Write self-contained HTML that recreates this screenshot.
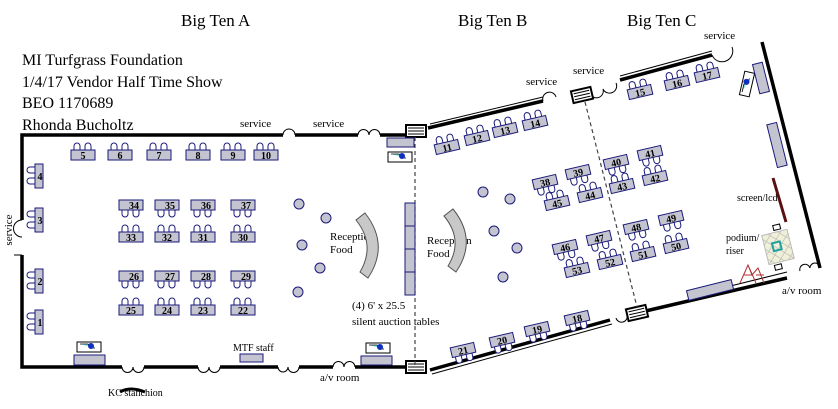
<!DOCTYPE html>
<html><head><meta charset="utf-8"><style>
html,body{margin:0;padding:0;background:#fff;}
svg{display:block;font-family:"Liberation Serif",serif;}
</style></head><body>
<svg width="838" height="409" viewBox="0 0 838 409" xmlns="http://www.w3.org/2000/svg">
<defs>
<g id="tu"><path d="M-9,-4 v-5 a3,3 0 0 1 6,0 v5 M2,-4 v-5 a3,3 0 0 1 6,0 v5" fill="#fff" stroke="#1a1a7a" stroke-width="1"/><rect x="-12" y="-5" width="24" height="10" fill="#c4c4d0" stroke="#1a1a7a" stroke-width="1"/></g>
<g id="td"><path d="M-9,4 v5 a3,3 0 0 0 6,0 v-5 M2,4 v5 a3,3 0 0 0 6,0 v-5" fill="#fff" stroke="#1a1a7a" stroke-width="1"/><rect x="-12" y="-5" width="24" height="10" fill="#c4c4d0" stroke="#1a1a7a" stroke-width="1"/></g>
<g id="tl"><path d="M-4,-9 h-5 a3,3 0 0 0 0,6 h5 M-4,2 h-5 a3,3 0 0 0 0,6 h5" fill="#fff" stroke="#1a1a7a" stroke-width="1"/><rect x="-4" y="-12" width="8" height="24" fill="#c4c4d0" stroke="#1a1a7a" stroke-width="1"/></g>
<g id="av"><rect x="-12" y="-5" width="24" height="10" fill="#fff" stroke="#000"/><path d="M-9,-3 h8 l3,4 h4" fill="#7fe0e0" stroke="#000" stroke-width="0.8"/><circle cx="2" cy="-1" r="3" fill="#1030c0"/></g>
<g id="st"><rect x="-10" y="-6" width="20" height="12" fill="#fff" stroke="#000" stroke-width="2"/><path d="M-8,-3h16M-8,0h16M-8,3h16" stroke="#000"/></g>
</defs>
<g font-size="17">
<text x="181" y="26">Big Ten A</text>
<text x="458" y="26">Big Ten B</text>
<text x="627" y="26">Big Ten C</text>
</g>
<g font-size="16">
<text x="22" y="65">MI Turfgrass Foundation</text>
<text x="22" y="87">1/4/17 Vendor Half Time Show</text>
<text x="22" y="108">BEO 1170689</text>
<text x="22" y="130">Rhonda Bucholtz</text>
</g>
<g font-size="11">
<text x="240" y="127">service</text>
<text x="313" y="127">service</text>
<text x="526" y="85">service</text>
<text x="573" y="74">service</text>
<text x="704" y="39">service</text>
<text x="12" y="230" transform="rotate(-90 12 230)" text-anchor="middle">service</text>
<text x="320" y="381">a/v room</text>
<text x="782" y="294">a/v room</text>
<text x="108" y="396" font-size="10">KC stanchion</text>
<text x="233" y="351" font-size="10">MTF staff</text>
<text x="330" y="240">Reception</text><text x="330" y="253">Food</text>
<text x="427" y="244">Reception</text><text x="427" y="257">Food</text>
<text x="352" y="309">(4) 6' x 25.5</text>
<text x="352" y="325">silent auction tables</text>
<text x="737" y="201" font-size="10">screen/lcd</text>
<text x="726" y="241" font-size="10">podium/</text><text x="726" y="254" font-size="10">riser</text>
</g>
<g stroke="#000" stroke-width="3.5" fill="none">
<path d="M283,135 H22 V220 M22,255 V367 H122 M144,367 H198 M220,367 H278 M299,367 H333 M355,367 H405"/>
<path d="M295,135 H358 M380,135 H405"/>
<path d="M428,128 L543,101 M620,80 L712,55 M762,42 L820,268 M787,278 L637,313 M610,320 L430,370"/>
</g>
<g stroke="#000" stroke-width="1" fill="none">
<path d="M283,135 a6,6 0 0 1 12,0 M358,135 a5,5 0 0 1 11,0 a5,5 0 0 1 11,0 M22,220 a8,8 0 0 0 0,17 M14,255 h8"/>
<path d="M122,367 a5,5 0 0 0 11,0 a5,5 0 0 0 11,0 M198,367 a5,5 0 0 0 11,0 a5,5 0 0 0 11,0 M278,367 a5,5 0 0 0 10,0 a5,5 0 0 0 11,0 M333,367 a5,5 0 0 1 11,0 a5,5 0 0 1 11,0"/>
<path d="M543,101 a6,6 0 0 1 13,-4 M590,93 a6,6 0 0 0 13,-4 a6,6 0 0 0 13,-6 M712,55 a10,10 0 0 0 20,-8 M820,268 a5,5 0 0 0 -10,0 a5,5 0 0 0 -10,3 M637,313 a5,5 0 0 1 -10,2 a5,5 0 0 1 -11,3"/>
<path d="M430,124 L543,97 M620,76 L712,51 M690,296 L787,272 M612,324 L432,374" stroke-width="1"/>
<path d="M120,392 q10,-6 25,0" stroke-width="3"/>
</g>
<use href="#st" x="416" y="131"/><use href="#st" x="416" y="367"/>
<use href="#st" x="582" y="95" transform="rotate(-13 582 95)"/>
<use href="#st" x="637" y="313" transform="rotate(-13 637 313)"/>
<path d="M415,137 V365 M585,102 L637,307" stroke="#444" stroke-width="1.2" stroke-dasharray="4,3" fill="none"/>
<g>
<use href="#tu" x="83" y="155"/><use href="#tu" x="120" y="155"/><use href="#tu" x="159" y="155"/><use href="#tu" x="198" y="155"/><use href="#tu" x="233" y="155"/><use href="#tu" x="266" y="155"/>
<use href="#tl" x="39" y="176"/><use href="#tl" x="39" y="220"/><use href="#tl" x="39" y="281"/><use href="#tl" x="39" y="322"/>
<use href="#td" x="131" y="205"/><use href="#td" x="167" y="205"/><use href="#td" x="203" y="205"/><use href="#td" x="243" y="205"/>
<use href="#tu" x="131" y="237"/><use href="#tu" x="167" y="237"/><use href="#tu" x="203" y="237"/><use href="#tu" x="243" y="237"/>
<use href="#td" x="131" y="276"/><use href="#td" x="167" y="276"/><use href="#td" x="203" y="276"/><use href="#td" x="243" y="276"/>
<use href="#tu" x="131" y="310"/><use href="#tu" x="167" y="310"/><use href="#tu" x="203" y="310"/><use href="#tu" x="243" y="310"/>
</g>
<g font-size="10" font-weight="bold" text-anchor="middle">
<text x="83" y="159">5</text><text x="120" y="159">6</text><text x="159" y="159">7</text><text x="198" y="159">8</text><text x="233" y="159">9</text><text x="266" y="159">10</text>
<text x="40" y="180">4</text><text x="40" y="224">3</text><text x="40" y="285">2</text><text x="40" y="326">1</text>
<text x="134" y="209">34</text><text x="170" y="209">35</text><text x="206" y="209">36</text><text x="246" y="209">37</text>
<text x="131" y="241">33</text><text x="167" y="241">32</text><text x="203" y="241">31</text><text x="243" y="241">30</text>
<text x="134" y="280">26</text><text x="170" y="280">27</text><text x="206" y="280">28</text><text x="246" y="280">29</text>
<text x="131" y="314">25</text><text x="167" y="314">24</text><text x="203" y="314">23</text><text x="243" y="314">22</text>
</g>
<g fill="#c4c4d0" stroke="#1a1a7a">
<circle cx="299" cy="204" r="5"/><circle cx="326" cy="218" r="5"/><circle cx="302" cy="245" r="5"/><circle cx="320" cy="268" r="5"/><circle cx="298" cy="292" r="5"/>
<circle cx="483" cy="192" r="5"/><circle cx="510" cy="199" r="5"/><circle cx="494" cy="231" r="5"/><circle cx="517" cy="248" r="5"/><circle cx="503" cy="277" r="5"/>
<rect x="405" y="203" width="10" height="23"/><rect x="405" y="226" width="10" height="23"/><rect x="405" y="249" width="10" height="23"/><rect x="405" y="272" width="10" height="23"/>
<rect x="74" y="355" width="31" height="10"/><rect x="240" y="354" width="23" height="8"/><rect x="361" y="356" width="31" height="9"/><rect x="387" y="138" width="27" height="9"/>
</g>
<g fill="#c8c8c8" stroke="#555">
<path d="M356,220 Q376,245 360,272 L368,278 Q390,245 365,213 Z"/>
<path d="M444,216 Q464,240 448,266 L456,272 Q478,240 453,209 Z"/>
</g>
<use href="#av" x="89" y="347"/><use href="#av" x="378" y="348"/><use href="#av" x="400" y="157"/>
<use href="#av" x="747" y="84" transform="rotate(-77 747 84)"/>
<g font-size="10" font-weight="bold" text-anchor="middle">
<g transform="translate(447,147) rotate(-13)"><use href="#tu"/><text y="4">11</text></g>
<g transform="translate(477,138) rotate(-13)"><use href="#tu"/><text y="4">12</text></g>
<g transform="translate(505,130) rotate(-13)"><use href="#tu"/><text y="4">13</text></g>
<g transform="translate(535,123) rotate(-13)"><use href="#tu"/><text y="4">14</text></g>
<g transform="translate(640,92) rotate(-13)"><use href="#tu"/><text y="4">15</text></g>
<g transform="translate(677,83) rotate(-13)"><use href="#tu"/><text y="4">16</text></g>
<g transform="translate(707,75) rotate(-13)"><use href="#tu"/><text y="4">17</text></g>
<g transform="translate(545,182) rotate(-13)"><use href="#td"/><text y="4">38</text></g>
<g transform="translate(578,172) rotate(-13)"><use href="#td"/><text y="4">39</text></g>
<g transform="translate(616,162) rotate(-13)"><use href="#td"/><text y="4">40</text></g>
<g transform="translate(650,153) rotate(-13)"><use href="#td"/><text y="4">41</text></g>
<g transform="translate(557,203) rotate(-13)"><use href="#tu"/><text y="4">45</text></g>
<g transform="translate(590,195) rotate(-13)"><use href="#tu"/><text y="4">44</text></g>
<g transform="translate(622,186) rotate(-13)"><use href="#tu"/><text y="4">43</text></g>
<g transform="translate(655,178) rotate(-13)"><use href="#tu"/><text y="4">42</text></g>
<g transform="translate(565,247) rotate(-13)"><use href="#td"/><text y="4">46</text></g>
<g transform="translate(599,238) rotate(-13)"><use href="#td"/><text y="4">47</text></g>
<g transform="translate(636,227) rotate(-13)"><use href="#td"/><text y="4">48</text></g>
<g transform="translate(671,218) rotate(-13)"><use href="#td"/><text y="4">49</text></g>
<g transform="translate(577,270) rotate(-13)"><use href="#tu"/><text y="4">53</text></g>
<g transform="translate(610,262) rotate(-13)"><use href="#tu"/><text y="4">52</text></g>
<g transform="translate(643,254) rotate(-13)"><use href="#tu"/><text y="4">51</text></g>
<g transform="translate(676,246) rotate(-13)"><use href="#tu"/><text y="4">50</text></g>
<g transform="translate(463,350) rotate(-13)"><use href="#td"/><text y="4">21</text></g>
<g transform="translate(502,340) rotate(-13)"><use href="#td"/><text y="4">20</text></g>
<g transform="translate(537,329) rotate(-13)"><use href="#td"/><text y="4">19</text></g>
<g transform="translate(577,318) rotate(-13)"><use href="#td"/><text y="4">18</text></g>
</g>
<g fill="#c4c4d0" stroke="#1a1a7a">
<rect x="-5" y="-15" width="10" height="30" transform="translate(761,78) rotate(-14)"/>
<rect x="-5" y="-22" width="10" height="44" transform="translate(777,145) rotate(-14)"/>
<rect x="-23" y="-5" width="46" height="10" transform="translate(710,290) rotate(-14)"/>
</g>
<path d="M773,178 L786,222" stroke="#5a1010" stroke-width="3"/>
<g transform="translate(778,247) rotate(-14)">
<rect x="-13" y="-15" width="26" height="30" fill="#f0f0d8" stroke="#bbb"/>
<path d="M-13,-5 L-3,-15 M-13,5 L7,-15 M-13,15 L13,-11 M-3,15 L13,-1 M7,15 L13,9 M-13,-11 L13,15 M-13,-1 L3,15 M-13,9 L-7,15 M-7,-15 L13,5 M3,-15 L13,-5" stroke="#bbb" stroke-width="0.7"/>
<rect x="-5" y="-5" width="8" height="8" fill="none" stroke="#20a0a0" stroke-width="2"/>
<rect x="0" y="-22" width="7" height="5" fill="#fff" stroke="#000"/>
<rect x="-8" y="17" width="7" height="5" fill="#fff" stroke="#000"/>
</g>
<path d="M740,283 L748,265 L756,283 M744,275 h8 M748,265 L752,275 L758,268 L764,283 M756,275 h8" stroke="#b03030" stroke-width="1" fill="none"/>
</svg>
</body></html>
